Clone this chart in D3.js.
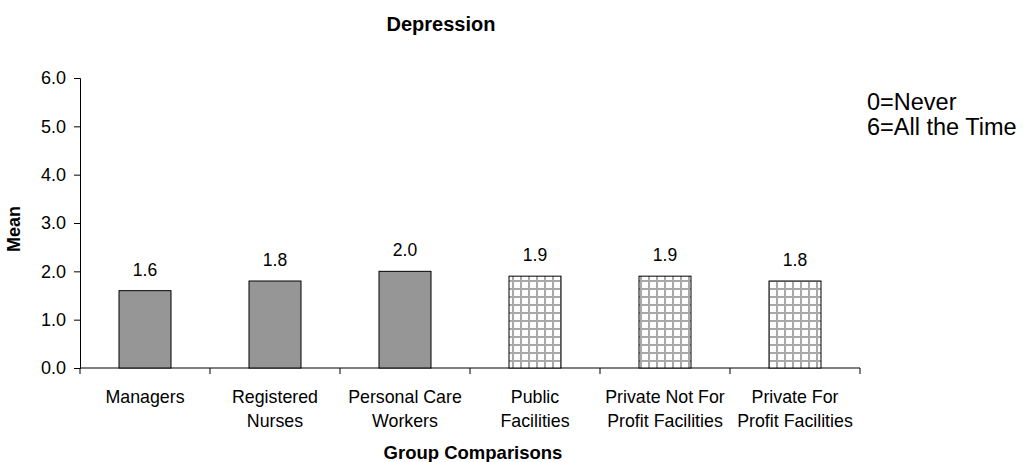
<!DOCTYPE html>
<html><head><meta charset="utf-8">
<script src="https://cdn.jsdelivr.net/npm/d3@7"></script>
<style>body{margin:0;background:#fff}text{font-family:Arial,"Liberation Sans",sans-serif;fill:#000}</style>
</head><body>
<svg id="c" width="1031" height="462"></svg>
<script>
const categories = [["Managers"],["Registered","Nurses"],["Personal Care","Workers"],["Public","Facilities"],["Private Not For","Profit Facilities"],["Private For","Profit Facilities"]];
const values = [1.6,1.8,2.0,1.9,1.9,1.8];
const patterned = [false,false,false,true,true,true];
const yTicks = [0,1,2,3,4,5,6];
const legendLines = ["0=Never","6=All the Time"];

const svg = d3.select("#c");
const defs = svg.append("defs");
const pat = defs.append("pattern").attr("id","grid").attr("patternUnits","userSpaceOnUse")
  .attr("width",8).attr("height",8);
pat.append("rect").attr("width",8).attr("height",8).attr("fill","#fff");
pat.append("rect").attr("x",0).attr("y",0).attr("width",2).attr("height",8).attr("fill","#a8a8a8");
pat.append("rect").attr("x",0).attr("y",0).attr("width",8).attr("height",2).attr("fill","#a8a8a8");

const x0=80,x1=860,yTop=78,yBot=368;
const x = d3.scaleBand().domain(d3.range(categories.length)).range([x0,x1]).paddingInner(0).paddingOuter(0);
const y = d3.scaleLinear().domain([0,6]).range([yBot,yTop]);

// y axis
const ya = svg.append("g").attr("transform",`translate(${x0},0)`)
  .call(d3.axisLeft(y).tickValues(yTicks).tickFormat(d3.format(".1f")).tickSize(6).tickPadding(8));
ya.select(".domain").attr("stroke","#000");
ya.selectAll(".tick line").attr("stroke","#000");
ya.selectAll("text").style("font-size","18px").attr("font-family","Arial");

// x axis
const xa = svg.append("g").attr("transform",`translate(0,${yBot})`);
xa.append("line").attr("x1",x0).attr("x2",x1).attr("stroke","#000");
const bounds = d3.range(categories.length+1).map(i=> i<categories.length ? x(i) : x(categories.length-1)+x.bandwidth());
xa.selectAll("line.t").data(bounds).enter().append("line").attr("class","t")
  .attr("x1",d=>d).attr("x2",d=>d).attr("y1",0).attr("y2",6).attr("stroke","#000");

// bars
const bw = x.bandwidth()*0.4;
svg.selectAll("rect.bar").data(values).enter().append("rect").attr("class","bar")
  .attr("x",(d,i)=>x(i)+x.bandwidth()/2-bw/2).attr("width",bw)
  .attr("y",d=>y(d)).attr("height",d=>yBot-y(d))
  .attr("fill",(d,i)=>patterned[i]?"url(#grid)":"#969696")
  .attr("stroke","#000").attr("stroke-width",1);

// value labels
svg.selectAll("text.val").data(values).enter().append("text").attr("class","val")
  .attr("x",(d,i)=>x(i)+x.bandwidth()/2).attr("y",d=>y(d)-15)
  .attr("text-anchor","middle").style("font-size","17.5px").text(d=>d.toFixed(1));

// category labels
categories.forEach((lines,i)=>{
  const cx = x(i)+x.bandwidth()/2;
  const t = svg.append("text").attr("x",cx).attr("y",403)
    .attr("text-anchor","middle").style("font-size","17.8px");
  lines.forEach((l,j)=>t.append("tspan").attr("x",cx).attr("dy",j?24:0).text(l));
});

// titles
svg.append("text").attr("x",441).attr("y",31).attr("text-anchor","middle")
  .style("font-size","20px").style("font-weight","bold").text("Depression");
svg.append("text").attr("x",473).attr("y",459).attr("text-anchor","middle")
  .style("font-size","18.5px").style("font-weight","bold").text("Group Comparisons");
svg.append("text").attr("transform",`translate(20,229) rotate(-90)`).attr("text-anchor","middle")
  .style("font-size","18px").style("font-weight","bold").text("Mean");

// legend note
legendLines.forEach((l,i)=>svg.append("text").attr("x",867).attr("y",110+i*25)
  .style("font-size","23.5px").text(l));
</script>
</body></html>
